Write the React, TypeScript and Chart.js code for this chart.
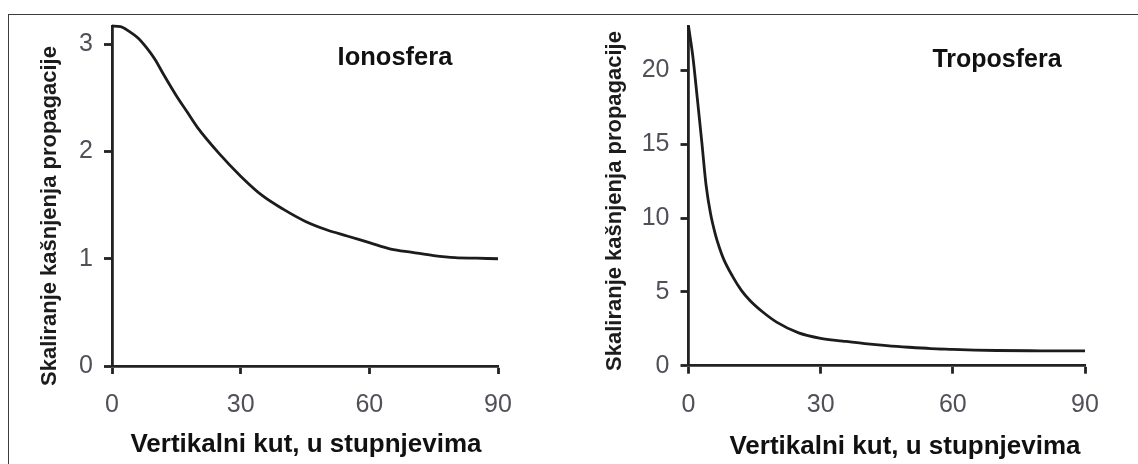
import React, { useEffect, useRef } from "react";
import { Chart, registerables } from "chart.js";

Chart.register(...registerables);

// ---- Data ----
const ionoAngles = [0, 2, 4, 6, 8, 10, 12, 15, 17.5, 20, 25, 30, 35, 40, 45, 50, 55, 60, 65, 70, 75, 80, 85, 90];
const ionoValues = [3.17, 3.165, 3.12, 3.06, 2.97, 2.86, 2.72, 2.52, 2.37, 2.22, 1.98, 1.77, 1.59, 1.46, 1.35, 1.27, 1.21, 1.15, 1.09, 1.06, 1.03, 1.01, 1.005, 1.0];

const tropoAngles = [0, 1, 2, 3, 4, 5, 6, 7, 8, 10, 12, 14, 17, 20, 25, 30, 35, 40, 45, 50, 55, 60, 65, 70, 80, 90];
const tropoValues = [23, 20.9, 18.1, 15.2, 12.2, 10.3, 9.0, 8.0, 7.2, 6.05, 5.1, 4.4, 3.6, 2.95, 2.22, 1.85, 1.67, 1.5, 1.36, 1.25, 1.16, 1.11, 1.06, 1.03, 1.01, 1.0];

const xTickValues = [0, 30, 60, 90];
const ionoYTicks = [0, 1, 2, 3];
const tropoYTicks = [0, 5, 10, 15, 20];

const yTitleText = "Skaliranje kašnjenja propagacije";
const xTitleText = "Vertikalni kut, u stupnjevima";
const ionoLabel = "Ionosfera";
const tropoLabel = "Troposfera";

const FONT = "'Liberation Sans', Arial, Helvetica, sans-serif";
const INK = "#1c1c1c";
const TICK_COLOR = "#505058";
const AXIS = "#222222";

const textPlugin = {
  id: "panelText",
  afterDraw(chart: any, _args: any, opts: any) {
    const ctx = chart.ctx;
    for (const t of opts.items || []) {
      ctx.save();
      ctx.translate(t.x, t.y);
      if (t.rotate) ctx.rotate(t.rotate);
      ctx.font = t.font;
      ctx.fillStyle = t.color;
      ctx.textAlign = "center";
      ctx.textBaseline = "middle";
      ctx.fillText(t.text, 0, 0);
      ctx.restore();
    }
  },
};

type PanelSpec = {
  angles: number[];
  values: number[];
  yMax: number;
  yTicks: number[];
  yAxisWidth: number;
  xAxisHeight: number;
  padTop: number;
  padRight: number;
  label: string;
  texts: any[];
};

function buildConfig(p: PanelSpec): any {
  const points = p.angles.map((a, i) => ({ x: a, y: p.values[i] }));
  const gridOpts = {
    display: true,
    drawOnChartArea: false,
    drawTicks: true,
    tickLength: 8,
    tickWidth: 2.8,
    tickColor: AXIS,
  };
  return {
    type: "line",
    data: {
      datasets: [
        {
          label: p.label,
          data: points,
          borderColor: INK,
          borderWidth: 2.8,
          pointRadius: 0,
          fill: false,
          cubicInterpolationMode: "monotone",
          clip: 6,
        },
      ],
    },
    options: {
      animation: false,
      responsive: false,
      maintainAspectRatio: false,
      layout: { padding: { top: p.padTop, right: p.padRight, left: 0, bottom: 0 } },
      plugins: {
        legend: { display: false },
        tooltip: { enabled: false },
        title: { display: false },
        panelText: { items: p.texts },
      },
      scales: {
        x: {
          type: "linear",
          min: 0,
          max: 90,
          afterBuildTicks: (s: any) => {
            s.ticks = xTickValues.map((v) => ({ value: v }));
          },
          afterFit: (s: any) => {
            s.height = p.xAxisHeight;
          },
          ticks: {
            color: TICK_COLOR,
            font: { family: FONT, size: 25 },
            padding: 16,
            maxRotation: 0,
            autoSkip: false,
          },
          grid: gridOpts,
          border: { display: true, color: AXIS, width: 2.8 },
        },
        y: {
          type: "linear",
          min: 0,
          max: p.yMax,
          afterBuildTicks: (s: any) => {
            s.ticks = p.yTicks.map((v) => ({ value: v }));
          },
          afterFit: (s: any) => {
            s.width = p.yAxisWidth;
          },
          ticks: {
            color: TICK_COLOR,
            font: { family: FONT, size: 25 },
            padding: 11,
            autoSkip: false,
          },
          grid: gridOpts,
          border: { display: true, color: AXIS, width: 2.8 },
        },
      },
    },
    plugins: [textPlugin],
  };
}

const ionoSpec: PanelSpec = {
  angles: ionoAngles,
  values: ionoValues,
  yMax: 3.17,
  yTicks: ionoYTicks,
  yAxisWidth: 112,
  xAxisHeight: 98,
  padTop: 20,
  padRight: 71,
  label: ionoLabel,
  texts: [
    { text: yTitleText, x: 50, y: 216, rotate: -Math.PI / 2, font: `bold 22px ${FONT}`, color: INK },
    { text: xTitleText, x: 306, y: 445, font: `bold 26px ${FONT}`, color: "#111111" },
    { text: ionoLabel, x: 395, y: 58, font: `bold 25.5px ${FONT}`, color: "#111111" },
  ],
};

const tropoSpec: PanelSpec = {
  angles: tropoAngles,
  values: tropoValues,
  yMax: 23,
  yTicks: tropoYTicks,
  yAxisWidth: 119.5,
  xAxisHeight: 98.3,
  padTop: 18.3,
  padRight: 53,
  label: tropoLabel,
  texts: [
    { text: yTitleText, x: 46, y: 201, rotate: -Math.PI / 2, font: `bold 22px ${FONT}`, color: INK },
    { text: xTitleText, x: 336, y: 447, font: `bold 26px ${FONT}`, color: "#111111" },
    { text: tropoLabel, x: 428, y: 60, font: `bold 25px ${FONT}`, color: "#111111" },
  ],
};

function Panel({ spec, left }: { spec: PanelSpec; left: number }) {
  const ref = useRef<HTMLCanvasElement | null>(null);
  useEffect(() => {
    if (!ref.current) return;
    const chart = new Chart(ref.current, buildConfig(spec));
    return () => chart.destroy();
  }, [spec]);
  return (
    <canvas
      ref={ref}
      width={569}
      height={464}
      style={{ position: "absolute", left, top: 0, width: 569, height: 464 }}
    />
  );
}

export default function App() {
  useEffect(() => {
    document.body.style.margin = "0";
    document.body.style.background = "#ffffff";
  }, []);
  return (
    <div
      style={{
        position: "relative",
        width: 1138,
        height: 464,
        overflow: "hidden",
        background: "#ffffff",
      }}
    >
      <div
        style={{
          position: "absolute",
          left: 8,
          top: 14,
          width: 1160,
          height: 480,
          border: "1.5px solid #3c3c3c",
          boxSizing: "border-box",
        }}
      />
      <Panel spec={ionoSpec} left={0} />
      <Panel spec={tropoSpec} left={569} />
    </div>
  );
}
